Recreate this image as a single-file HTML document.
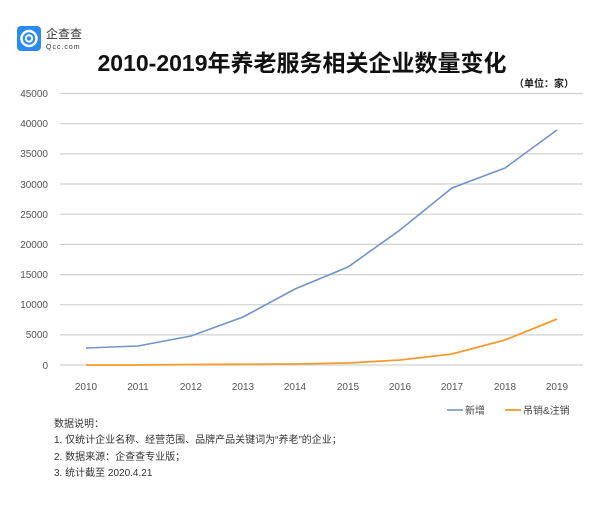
<!DOCTYPE html>
<html><head><meta charset="utf-8"><style>
body{margin:0;background:#fff;}
svg text{font-family:"Liberation Sans","Noto Sans CJK SC",sans-serif;}
</style></head><body>
<svg width="600" height="511" viewBox="0 0 600 511" xmlns="http://www.w3.org/2000/svg">
<rect width="600" height="511" fill="#fff"/>
<rect x="17" y="26" width="24" height="25" rx="4" fill="#2a8cf0"/>
<circle cx="29" cy="38.5" r="7.5" fill="none" stroke="#fff" stroke-width="2.5"/>
<circle cx="29" cy="38.5" r="3.2" fill="none" stroke="#fff" stroke-width="2"/>
<text x="46" y="38" font-size="12" fill="#333">企查查</text>
<text x="46" y="49" font-size="7" fill="#333" letter-spacing="1">Qcc.com</text>
<text x="302" y="71" font-size="23" font-weight="bold" text-anchor="middle" fill="#111">2010-2019年养老服务相关企业数量变化</text>
<text x="574" y="87" font-size="10" font-weight="bold" text-anchor="end" fill="#222">（单位：家）</text>
<g stroke="#d0d0d0" stroke-width="1.2">
<line x1="60" x2="583" y1="93.5" y2="93.5"/><line x1="60" x2="583" y1="123.7" y2="123.7"/>
<line x1="60" x2="583" y1="153.9" y2="153.9"/><line x1="60" x2="583" y1="184" y2="184"/>
<line x1="60" x2="583" y1="214.2" y2="214.2"/><line x1="60" x2="583" y1="244.4" y2="244.4"/>
<line x1="60" x2="583" y1="274.6" y2="274.6"/><line x1="60" x2="583" y1="304.7" y2="304.7"/>
<line x1="60" x2="583" y1="334.9" y2="334.9"/><line x1="60" x2="583" y1="365" y2="365"/>
</g>
<g font-size="10" fill="#555" text-anchor="end">
<text x="48" y="97">45000</text><text x="48" y="127">40000</text><text x="48" y="157">35000</text>
<text x="48" y="188">30000</text><text x="48" y="218">25000</text><text x="48" y="248">20000</text>
<text x="48" y="278">15000</text><text x="48" y="308">10000</text><text x="48" y="338">5000</text>
<text x="48" y="369">0</text>
</g>
<g font-size="10" fill="#555" text-anchor="middle">
<text x="86" y="390">2010</text><text x="138" y="390">2011</text><text x="191" y="390">2012</text>
<text x="243" y="390">2013</text><text x="295" y="390">2014</text><text x="348" y="390">2015</text>
<text x="400" y="390">2016</text><text x="452" y="390">2017</text><text x="505" y="390">2018</text>
<text x="557" y="390">2019</text>
</g>
<polyline fill="none" stroke="#7094c8" stroke-width="1.6" points="86,348 138,346 191,336 243,317 295,289 348,267 400,230 452,188 505,168 557,130"/>
<polyline fill="none" stroke="#f79a30" stroke-width="1.8" points="86,365 138,365 191,364.5 243,364.3 295,364 348,363 400,360 452,354 505,340 557,319"/>
<line x1="447" x2="463" y1="410" y2="410" stroke="#7094c8" stroke-width="1.6"/>
<text x="465" y="414" font-size="10" fill="#444">新增</text>
<line x1="505" x2="521" y1="410" y2="410" stroke="#f79a30" stroke-width="1.8"/>
<text x="523" y="414" font-size="10" fill="#444">吊销&amp;注销</text>
<g font-size="10" fill="#333">
<text x="54" y="427">数据说明：</text>
<text x="54" y="443">1. 仅统计企业名称、经营范围、品牌产品关键词为“养老”的企业；</text>
<text x="54" y="460">2. 数据来源：企查查专业版；</text>
<text x="54" y="476">3. 统计截至 2020.4.21</text>
</g>
</svg>
</body></html>
